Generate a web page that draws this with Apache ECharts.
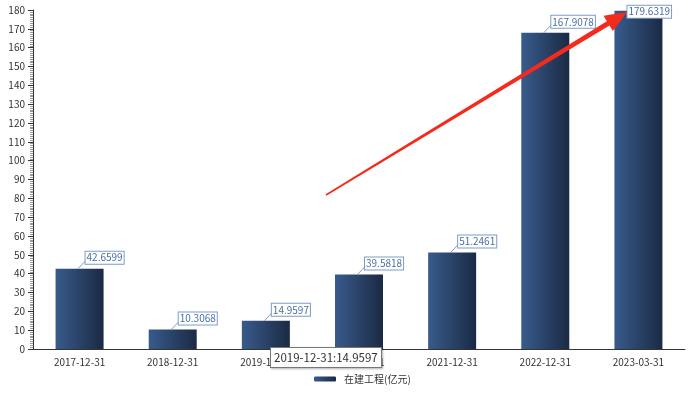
<!DOCTYPE html>
<html>
<head>
<meta charset="utf-8">
<script src="https://cdn.jsdelivr.net/npm/echarts@6/dist/echarts.min.js"></script>
<style>
  html, body { margin: 0; padding: 0; background: #fff; }
  #main { width: 700px; height: 396px; }
</style>
</head>
<body>
<div id="main"></div>
<script>
  // 数据
  const categories = ['2017-12-31', '2018-12-31', '2019-12-31', '2020-12-31', '2021-12-31', '2022-12-31', '2023-03-31'];
  const values = [42.6599, 10.3068, 14.9597, 39.5818, 51.2461, 167.9078, 179.6319];
  const seriesName = '在建工程(亿元)';

  const font = '"Noto Sans CJK SC", "Microsoft YaHei", sans-serif';
  const barColor = new echarts.graphic.LinearGradient(0, 0, 1, 0, [
    { offset: 0, color: '#385b8c' },
    { offset: 1, color: '#1b2a44' }
  ]);

  // 标签 + 引导线
  function renderLabel(params, api) {
    const idx = api.value(0);
    const val = api.value(1);
    const pt = api.coord([idx, val]);
    const last = params.dataIndex === values.length - 1;
    const tx = last ? pt[0] - 11 : pt[0] + 6;
    const ty = last ? pt[1] + 1 : pt[1] - 11;
    const children = [];
    if (!last) {
      children.push({
        type: 'line',
        shape: { x1: pt[0] - 1.5, y1: pt[1], x2: tx + 1, y2: ty + 2 },
        style: { stroke: '#7f9cc6', lineWidth: 1 }
      });
    }
    children.push({
      type: 'text',
      x: tx,
      y: ty,
      style: {
        text: String(val),
        fill: '#4a6fa6',
        font: '10px ' + font,
        align: 'left',
        verticalAlign: 'middle',
        backgroundColor: '#fff',
        borderColor: '#7f9cc6',
        borderWidth: 1,
        padding: [1, 1]
      }
    });
    return { type: 'group', children: children };
  }

  const chart = echarts.init(document.getElementById('main'));
  const option = {
    animation: false,
    textStyle: { fontFamily: font },
    grid: { left: 33, right: 15, top: 10, bottom: 47 },
    tooltip: {
      trigger: 'item',
      alwaysShowContent: true,
      transitionDuration: 0,
      position: [270, 347],
      backgroundColor: '#fff',
      borderColor: '#777',
      borderWidth: 1,
      padding: [1, 3],
      textStyle: { color: '#333', fontSize: 11.5, fontFamily: font },
      extraCssText: 'border-radius:0;box-shadow:1px 1px 2px rgba(0,0,0,0.3);',
      formatter: function (p) { return p.name + ':' + p.value; }
    },
    legend: {
      bottom: 7,
      left: 309,
      itemWidth: 22,
      itemHeight: 5,
      itemGap: 10,
      textStyle: { color: '#333', fontSize: 10, fontFamily: font, padding: [0, 0, 0, 3] },
      data: [seriesName]
    },
    xAxis: {
      type: 'category',
      data: categories,
      axisLine: { lineStyle: { color: '#333' } },
      axisTick: { alignWithLabel: true, length: 5, lineStyle: { color: '#333' } },
      axisLabel: { color: '#333', fontSize: 10, margin: 8 }
    },
    yAxis: {
      type: 'value',
      min: 0,
      max: 180,
      interval: 10,
      axisLine: { show: true, lineStyle: { color: '#333' } },
      axisTick: { show: true, length: 5, lineStyle: { color: '#333' } },
      minorTick: { show: true, splitNumber: 10, length: 3, lineStyle: { color: '#999' } },
      axisLabel: { color: '#333', fontSize: 10, margin: 8 },
      splitLine: { show: false }
    },
    series: [{
      name: seriesName,
      type: 'bar',
      data: values,
      barWidth: 48,
      itemStyle: { color: barColor }
    }, {
      name: 'label',
      type: 'custom',
      silent: true,
      tooltip: { show: false },
      renderItem: renderLabel,
      encode: { x: 0, y: 1 },
      data: values.map(function (v, i) { return [i, v]; }),
      z: 10
    }],
    graphic: [{
      type: 'polygon',
      z: 100,
      shape: {
        points: [
          [326.4, 195.7], [609.5, 25.5], [612.9, 31.0], [627, 12],
          [603.5, 15.8], [606.9, 21.3], [325.6, 194.3]
        ]
      },
      style: { fill: '#f42a1c' }
    }]
  };
  chart.setOption(option);
  chart.dispatchAction({ type: 'showTip', seriesIndex: 0, dataIndex: 2 });
</script>
</body>
</html>
